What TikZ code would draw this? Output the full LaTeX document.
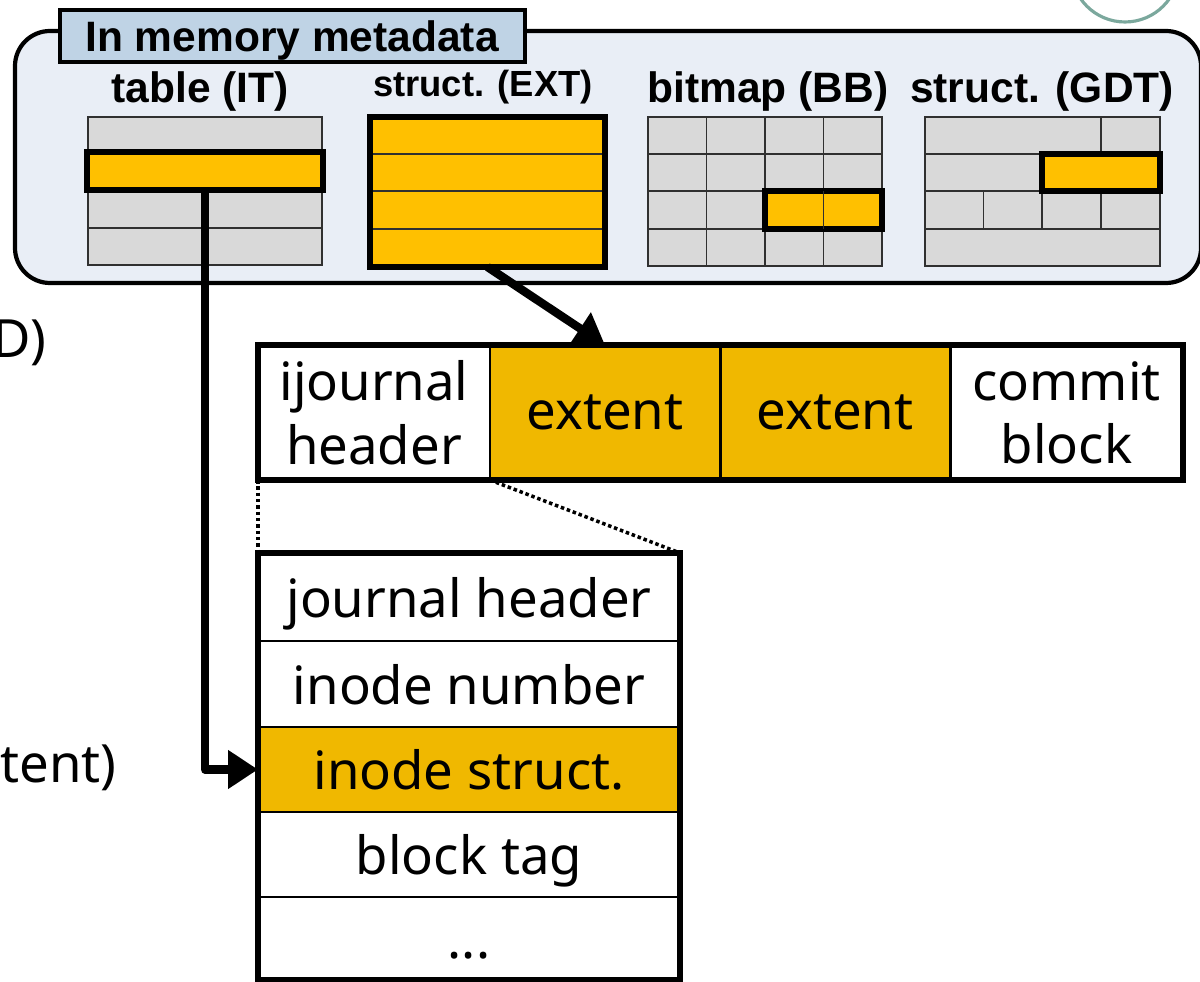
\documentclass[tikz,border=0pt]{standalone}
\usepackage{fontspec}
\setmainfont{Noto Sans}
\newfontfamily\headfont{Liberation Sans}
\usetikzlibrary{arrows.meta}

\definecolor{panelfill}{HTML}{E9EEF6}
\definecolor{labelfill}{HTML}{BFD3E5}
\definecolor{cellgray}{HTML}{D9D9D9}
\definecolor{hlyellow}{HTML}{FFC000}
\definecolor{gold}{HTML}{F0B800}
\definecolor{gridline}{HTML}{303030}
\definecolor{tealring}{HTML}{7BA89D}

\tikzset{
  px/.style 2 args={minimum width=#1*0.02cm, minimum height=#2*0.02cm},
  thinline/.style={draw=gridline, line width=1.1pt},
  heavy/.style={draw=black, line width=3.6pt},
  hlbox/.style={heavy, fill=hlyellow, inner sep=0pt, outer sep=0pt, anchor=north west},
  cellnode/.style={draw=black, line width=1.7pt, inner sep=0pt, outer sep=0pt,
    anchor=north west, align=center, text depth=0pt,
    font=\fontsize{30}{36}\selectfont},
  headlabel/.style={font=\headfont\bfseries\fontsize{24.2}{28}\selectfont, anchor=base},
  bigarrow/.style={line width=4.8pt, line join=round,
    -{Triangle[length=17pt,width=21pt]}},
  zoomline/.style={line width=2pt, dash pattern=on 2pt off 1.6pt},
}

\begin{document}
\begin{tikzpicture}[x=0.02cm, y=-0.02cm]
\useasboundingbox (0,0) rectangle (1200,982);
\clip (0,0) rectangle (1200,982);

% ring peeking in at the top right
\draw[tealring, line width=1.8pt] (1125,-32) circle (54);

% in-memory metadata panel
\draw[line width=2.4pt, fill=panelfill, rounded corners=0.7cm]
  (15,31) rectangle (1201,283);
\node[draw=black, line width=1.8pt, fill=labelfill, inner sep=0pt, outer sep=0pt,
  anchor=north west, px={465}{52}] (panel) at (60,10) {};
\node[headlabel] (paneltitle) at (292,52) {In memory metadata};

% column headings
\node[headlabel] (itlabel)  at (200,103) {table (IT)};
\node[headlabel, font=\headfont\bfseries\fontsize{20.7}{24}\selectfont] (extlabel) at (483,97) {struct. (EXT)};
\node[headlabel] (bblabel)  at (768,103) {bitmap (BB)};
\node[headlabel] (gdtlabel) at (1042,103) {struct. (GDT)};

% inode table
\fill[cellgray] (88,117) rectangle (322,265);
\draw[thinline] (88,117) rectangle (322,265);
\foreach \yy in {154,191,228} \draw[thinline] (88,\yy) -- (322,\yy);
\node[hlbox, px={236}{38}] (itrow) at (87,152) {};

% extent structure
\node[hlbox, px={235}{150}] (ext) at (370,117) {};
\foreach \yy in {154,191,229} \draw[thinline] (370,\yy) -- (605,\yy);
\draw[heavy] (370,117) rectangle (605,267);

% block bitmap
\fill[cellgray] (648,117) rectangle (882,266);
\draw[thinline] (648,117) rectangle (882,266);
\foreach \yy in {154,191,229} \draw[thinline] (648,\yy) -- (882,\yy);
\foreach \xx in {706.5,765,823.5} \draw[thinline] (\xx,117) -- (\xx,266);
\node[hlbox, px={117}{38}] (bbcell) at (765,191) {};
\draw[thinline] (823.5,191) -- (823.5,229);

% group descriptor table
\fill[cellgray] (925,117) rectangle (1160,266);
\draw[thinline] (925,117) rectangle (1160,266);
\foreach \yy in {154,191,229} \draw[thinline] (925,\yy) -- (1160,\yy);
\draw[thinline] (1101,117) -- (1101,154);
\foreach \xx in {983.5,1042,1101} \draw[thinline] (\xx,191) -- (\xx,229);
\node[hlbox, px={118}{37}] (gdtcell) at (1042,154) {};

% journal transaction
\node[cellnode, fill=white, px={232}{135}] (j1) at (258,345) {ijournal\\header};
\node[cellnode, fill=gold,  px={230}{135}] (j2) at (490,345) {extent};
\node[cellnode, fill=gold,  px={230}{135}] (j3) at (720,345) {extent};
\node[cellnode, fill=white, px={233}{135}] (j4) at (950,345) {commit\\block};
\draw[heavy] (j1.north west) rectangle (j4.south east);

% ijournal header layout
\node[cellnode, fill=white, px={422}{88}] (r1) at (258,553) {journal header};
\node[cellnode, fill=white, px={422}{86}] (r2) at (258,641) {inode number};
\node[cellnode, fill=gold,  px={422}{85}] (r3) at (258,727) {inode struct.};
\node[cellnode, fill=white, px={422}{85}] (r4) at (258,812) {block tag};
\node[cellnode, fill=white, px={422}{83}] (r5) at (258,897) {\vphantom{b}...};
\draw[heavy] (r1.north west) rectangle (r5.south east);

% zoom guides
\draw[zoomline] (j1.south west) -- (r1.north west);
\draw[zoomline] (j1.south east) -- (r1.north east);

% pointers
\draw[bigarrow] (ext.south) -- (j2.north);
\draw[bigarrow] (itrow.south) |- (r3.west);

% text running in from the left
\node[anchor=base east, font=\fontsize{30}{36}\selectfont] (leftD) at (53,358) {D)};
\node[anchor=base east, font=\fontsize{30}{36}\selectfont] (leftT) at (123,782) {tent)};
\end{tikzpicture}
\end{document}
